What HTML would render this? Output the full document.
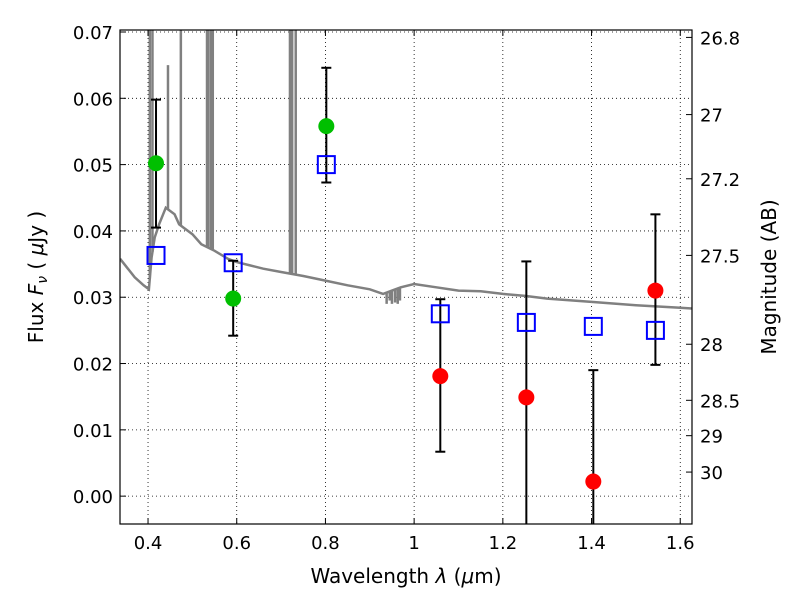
<!DOCTYPE html>
<html><head><meta charset="utf-8"><style>
body{margin:0;background:#fff;}
svg text{font-family:"DejaVu Sans","Liberation Sans",sans-serif;fill:#000;}
</style></head><body>
<svg id="chart" width="800" height="600" xmlns="http://www.w3.org/2000/svg"></svg>
<script>
const xTicks=[0.4,0.6,0.8,1,1.2,1.4,1.6];
const yTicks=[0,0.01,0.02,0.03,0.04,0.05,0.06,0.07];
const magTicks=[26.8,27,27.2,27.5,28,28.5,29,30];
const greenWl=[0.418,0.592,0.802];
const greenFlux=[0.0502,0.0298,0.0558];
const greenLo=[0.0405,0.0242,0.0473];
const greenHi=[0.0598,0.0355,0.0646];
const redWl=[1.059,1.253,1.404,1.544];
const redFlux=[0.0181,0.0149,0.0022,0.031];
const redLo=[0.0067,-0.01,-0.01,0.0198];
const redHi=[0.0297,0.0354,0.019,0.0425];
const modelWl=[0.418,0.592,0.802,1.059,1.253,1.404,1.544];
const modelFlux=[0.0363,0.0352,0.05,0.0275,0.0262,0.0256,0.025];
const specWl=[0.337,0.37,0.39,0.402,0.408,0.415,0.425,0.44,0.45,0.46,0.47,0.48,0.5,0.52,0.55,0.58,0.6,0.63,0.66,0.7,0.75,0.8,0.85,0.9,0.93,0.95,0.97,1.0,1.05,1.1,1.15,1.2,1.25,1.3,1.4,1.5,1.6,1.627];
const specFlux=[0.0358,0.033,0.0318,0.0312,0.036,0.039,0.041,0.0435,0.043,0.0425,0.041,0.0405,0.0395,0.038,0.037,0.0358,0.0353,0.0348,0.0343,0.0338,0.0332,0.0325,0.0318,0.0312,0.0305,0.031,0.0315,0.032,0.0315,0.031,0.0309,0.0305,0.0302,0.0298,0.0293,0.0288,0.0284,0.0283];
const lineWl=[0.404,0.41,0.445,0.474,0.533,0.536,0.542,0.546,0.72,0.725,0.733,0.938,0.945,0.95,0.957,0.963,0.968];
const lineTop=[0.075,0.075,0.065,0.075,0.075,0.075,0.075,0.075,0.075,0.075,0.075,0.029,0.0295,0.029,0.0292,0.029,0.0295];
const NS="http://www.w3.org/2000/svg";
const svg=document.getElementById('chart');
const L=120,R=692,T=30,B=524;
const x0=0.3368,x1=1.6265,y0=-0.0042,y1=0.0703;
function sx(v){return L+(v-x0)/(x1-x0)*(R-L);}
function sy(v){return B-(v-y0)/(y1-y0)*(B-T);}
function contAt(w){for(let i=1;i<specWl.length;i++){if(w<=specWl[i]){const t=(w-specWl[i-1])/(specWl[i]-specWl[i-1]);return specFlux[i-1]+t*(specFlux[i]-specFlux[i-1]);}}return specFlux[specFlux.length-1];}
function mk(tag,attrs,parent){const e=document.createElementNS(NS,tag);for(const k in attrs)e.setAttribute(k,attrs[k]);(parent||svg).appendChild(e);return e;}
const defs=mk('defs',{});const cp=mk('clipPath',{id:'cp'},defs);mk('rect',{x:L,y:T,width:R-L,height:B-T},cp);
const grid=mk('g',{stroke:'#000','stroke-width':0.8,'stroke-dasharray':'1,3'});


xTicks.forEach(v=>mk('line',{x1:sx(v),x2:sx(v),y1:T,y2:B},grid));
yTicks.forEach(v=>mk('line',{x1:L,x2:R,y1:sy(v),y2:sy(v)},grid));
const plot=mk('g',{'clip-path':'url(#cp)'});
let d='';specWl.forEach((w,i)=>{d+=(i?'L':'M')+sx(w).toFixed(1)+','+sy(specFlux[i]).toFixed(1);});
const sp=mk('path',{d:d,fill:'none',stroke:'#808080','stroke-width':2.5},plot);


const lg=mk('g',{stroke:'#808080','stroke-width':2.5},plot);


lineWl.forEach((w,i)=>{mk('line',{x1:sx(w),x2:sx(w),y1:sy(contAt(w)),y2:sy(lineTop[i])},lg);});
function ebar(w,lo,hi,name){const g=mk('g',{stroke:'#000','stroke-width':2},plot);


const x=sx(w);mk('line',{x1:x,x2:x,y1:sy(lo),y2:sy(hi)},g);mk('line',{x1:x-5,x2:x+5,y1:sy(hi),y2:sy(hi)},g);mk('line',{x1:x-5,x2:x+5,y1:sy(lo),y2:sy(lo)},g);}
greenWl.forEach((w,i)=>ebar(w,greenLo[i],greenHi[i],'error-bar-green'));
redWl.forEach((w,i)=>ebar(w,redLo[i],redHi[i],'error-bar-red'));
modelWl.forEach((w,i)=>{const r=mk('rect',{x:sx(w)-8.5,y:sy(modelFlux[i])-8.5,width:17,height:17,fill:'none',stroke:'#0000ff','stroke-width':2},plot);

});
greenWl.forEach((w,i)=>{const c=mk('circle',{cx:sx(w),cy:sy(greenFlux[i]),r:8,fill:'#00bf00'},plot);

});
redWl.forEach((w,i)=>{const c=mk('circle',{cx:sx(w),cy:sy(redFlux[i]),r:8,fill:'#ff0000'},plot);

});
const fr=mk('rect',{x:L,y:T,width:R-L,height:B-T,fill:'none',stroke:'#000','stroke-width':1.2});


const tk=mk('g',{stroke:'#000','stroke-width':1});
xTicks.forEach(v=>{mk('line',{x1:sx(v),x2:sx(v),y1:B,y2:B-6},tk);mk('line',{x1:sx(v),x2:sx(v),y1:T,y2:T+6},tk);
const t=mk('text',{x:sx(v),y:B+25,'text-anchor':'middle','font-size':18});t.textContent=String(v);

});
yTicks.forEach(v=>{mk('line',{x1:L,x2:L+6,y1:sy(v),y2:sy(v)},tk);
const t=mk('text',{x:L-7,y:sy(v)+7,'text-anchor':'end','font-size':18});t.textContent=v.toFixed(2);

});
magTicks.forEach(m=>{const f=Math.pow(10,-(m-23.9)/2.5);const y=sy(f);mk('line',{x1:R-6,x2:R,y1:y,y2:y},tk);
const t=mk('text',{x:R+8,y:y+7,'font-size':18});t.textContent=String(m);

});
</script>
<svg width="800" height="600" style="position:absolute;left:0;top:0">
<text x="406" y="583" text-anchor="middle" font-size="20" font-family="DejaVu Sans,sans-serif">Wavelength  <tspan font-style="italic">λ</tspan> (<tspan font-style="italic">μ</tspan>m)</text>
<text transform="translate(43,277) rotate(-90)" text-anchor="middle" font-size="20" font-family="DejaVu Sans,sans-serif">Flux  <tspan font-style="italic">F</tspan><tspan font-style="italic" font-size="14" dy="4">ν</tspan><tspan dy="-4">  ( </tspan><tspan font-style="italic">μ</tspan>Jy )</text>
<text transform="translate(776,277) rotate(-90)" text-anchor="middle" font-size="20" font-family="DejaVu Sans,sans-serif">Magnitude (AB)</text>
</svg>
</body></html>
